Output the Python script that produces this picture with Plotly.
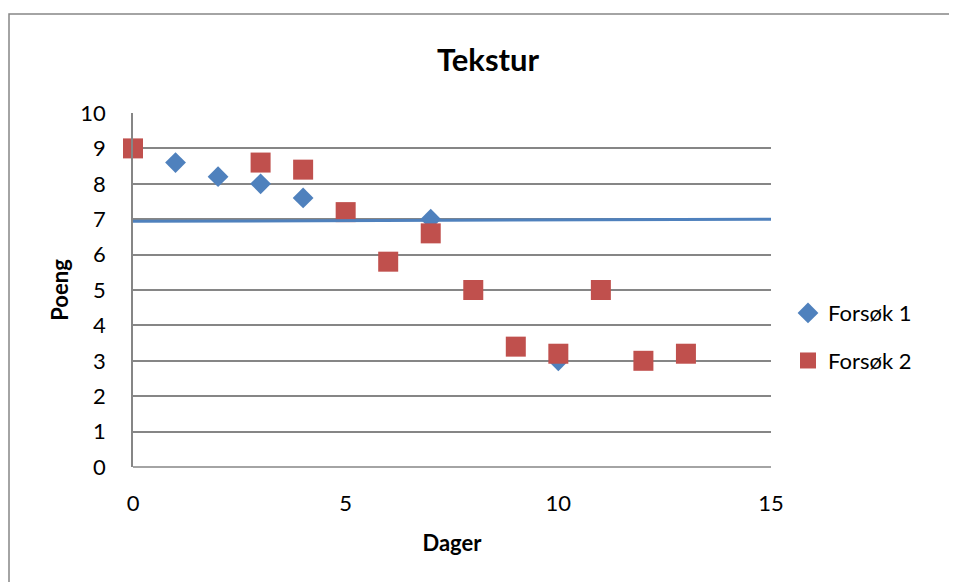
import plotly.graph_objects as go

# data
dager_1 = [1, 2, 3, 4, 7, 10]
poeng_1 = [8.6, 8.2, 8.0, 7.6, 7.0, 3.0]

dager_2 = [0, 3, 4, 5, 6, 7, 8, 9, 10, 11, 12, 13]
poeng_2 = [9.0, 8.6, 8.4, 7.2, 5.8, 6.6, 5.0, 3.4, 3.2, 5.0, 3.0, 3.2]

linje_x = [0, 15]
linje_y = [6.94, 7.0]

blue = "#4F81BD"
red = "#C0504D"
grid = "#868686"
font = "Lato, 'Open Sans', sans-serif"

fig = go.Figure()
fig.add_trace(go.Scatter(
    x=dager_1, y=poeng_1, mode="markers", name="Forsøk 1",
    legendgroup="a", cliponaxis=False,
    marker=dict(symbol="diamond", size=16, color=blue),
))
fig.add_trace(go.Scatter(
    x=dager_2, y=poeng_2, mode="markers", name="Forsøk 2",
    legendgroup="b", cliponaxis=False,
    marker=dict(symbol="square", size=20, color=red),
))
fig.add_trace(go.Scatter(
    x=linje_x, y=linje_y, mode="lines", showlegend=False,
    line=dict(color=blue, width=3),
))

# page has an 8px body margin, so the plot box is offset by it
fig.update_layout(
    width=957, height=582,
    margin=dict(l=125, r=194, t=105, b=123),
    paper_bgcolor="white", plot_bgcolor="white",
    font=dict(family=font, size=22, color="black"),
    title=dict(text="<b>Tekstur</b>", x=(480 / 957), xanchor="center",
               y=1 - 52 / 582, yanchor="middle", font=dict(size=31)),
    xaxis=dict(range=[0, 15], tickvals=[0, 5, 10, 15], showgrid=False,
               zeroline=False, showline=False, ticks="outside", ticklen=17,
               tickcolor="rgba(0,0,0,0)",
               title=dict(text="<b>Dager</b>", font=dict(size=22), standoff=20)),
    yaxis=dict(range=[0, 10], dtick=1, showgrid=True, gridcolor=grid, gridwidth=1.5,
               zeroline=False, showline=True, linecolor=grid, linewidth=1.5,
               ticks="outside", ticklen=21, tickcolor="rgba(0,0,0,0)",
               title=dict(text="<b>Poeng</b>", font=dict(size=22), standoff=6)),
    legend=dict(x=(788 - 133) / 638, y=0.367, xanchor="left", yanchor="middle",
                font=dict(size=22), tracegroupgap=16, itemwidth=30),
    showlegend=True,
    shapes=[
        dict(type="rect", xref="paper", yref="paper",
             x0=-124 / 638, x1=1.3, y0=-0.4, y1=(467 - 14) / 354,
             line=dict(color=grid, width=1.5), layer="below"),
        dict(type="line", xref="paper", yref="paper", x0=0, x1=1, y0=0, y1=0,
             line=dict(color=grid, width=1.5)),
    ],
)

fig.write_html("out.html")
